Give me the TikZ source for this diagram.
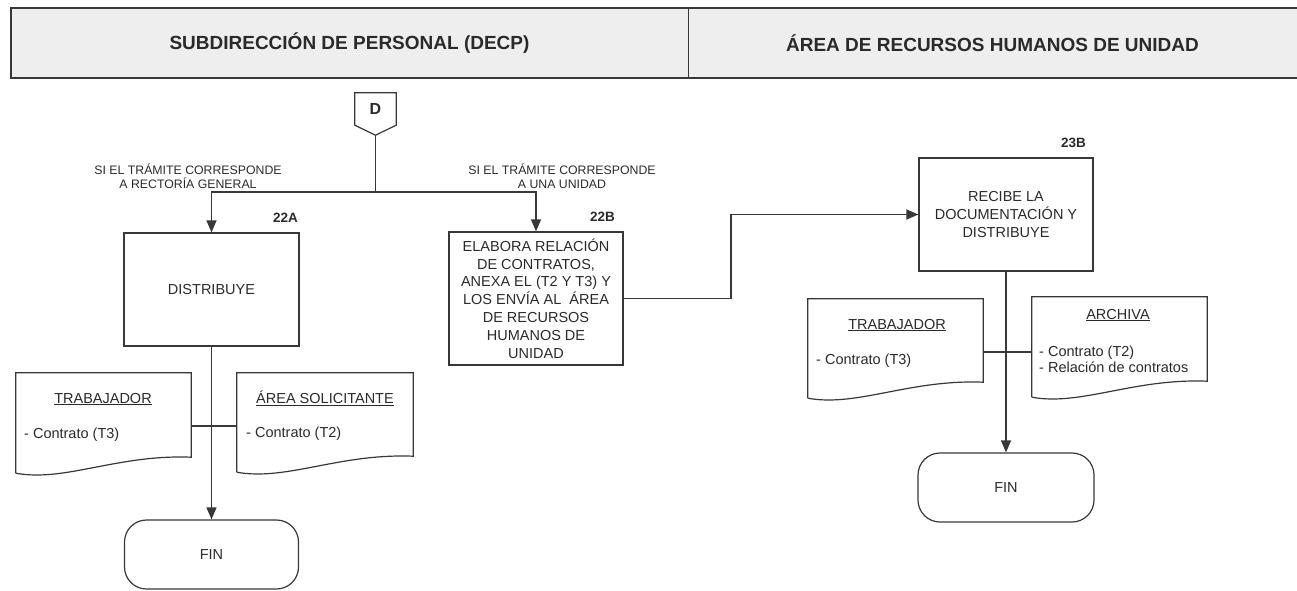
\documentclass[tikz,border=0pt]{standalone}
\usepackage{fontspec}
\setmainfont{Liberation Sans}
\usetikzlibrary{arrows.meta,calc}
\definecolor{ink}{HTML}{2A2A2A}
\definecolor{edge}{HTML}{383838}
\definecolor{headfill}{HTML}{EEEEEE}
% document symbol: straight top and sides, wavy bottom edge
\newcommand\drawdoc[1]{%
  \draw[wire] (#1.south west) -- (#1.north west) -- (#1.north east)
    -- ([yshift=16pt]#1.south east)
    .. controls ($(#1.south west)!0.58!(#1.south east)+(0,-19)$)
       and ($(#1.south west)!0.28!(#1.south east)+(0,9)$) .. (#1.south west);}
\begin{document}
\begin{tikzpicture}[x=1pt,y=-1pt,
  every node/.style={text=ink},
  wire/.style={draw=edge,line width=1.2pt},
  flow/.style={wire,-{Triangle[length=12pt,width=10pt]}},
  body/.style={font=\fontsize{14.5}{17.8}\selectfont},
  stepbox/.style={body,draw=edge,line width=1.2pt,align=center,inner sep=0pt},
  stepnum/.style={font=\bfseries\fontsize{13.5}{15}\selectfont,anchor=east,inner sep=0pt},
  cond/.style={font=\fontsize{12.3}{14}\selectfont,align=center,inner sep=0pt},
  docbox/.style={inner sep=0pt},
  endbox/.style={body,draw=edge,line width=1.2pt,rounded corners=22pt,inner sep=0pt},
  lanehead/.style={fill=headfill,inner sep=0pt,font=\bfseries\fontsize{19}{22}\selectfont},
  doctitle/.style={body,inner sep=0pt},
  docitem/.style={body,anchor=west,align=left,inner sep=0pt},
]
\useasboundingbox (0,0) rectangle (1297,590);

% swimlane headers
\node[lanehead,minimum width=677pt,minimum height=70pt] (lane1) at (349.5,43) {SUBDIRECCIÓN DE PERSONAL (DECP)};
\node[lanehead,minimum width=609pt,minimum height=70pt] (lane2) at (992.5,43) {ÁREA DE RECURSOS HUMANOS DE UNIDAD};
\draw[draw=edge,line width=1.8pt] (lane2.north east) -- (lane1.north west) -- (lane1.south west) -- (lane2.south east);
\draw[draw=edge,line width=1.3pt] (lane1.north east) -- (lane1.south east);

% off-page connector D
\node[font=\bfseries\fontsize{16}{18}\selectfont,minimum width=41pt,minimum height=32pt,inner sep=0pt] (dconn) at (375.5,109) {D};
\coordinate (dtip) at ($(dconn.south)+(0,10)$);
\draw[wire] (dconn.north west) -- (dconn.north east) -- (dconn.south east) -- (dtip) -- (dconn.south west) -- cycle;
\coordinate (j) at (375.5,192);

% conditions
\node[cond] (c1) at (188,176) {SI EL TRÁMITE CORRESPONDE\\A RECTORÍA GENERAL};
\node[cond] (c2) at (562,176) {SI EL TRÁMITE CORRESPONDE\\A UNA UNIDAD};

% process steps
\node[stepbox,minimum width=175pt,minimum height=113pt] (a22) at (211.5,289.5) {DISTRIBUYE};
\node[stepnum] (n22a) at (298,218) {22A};
\node[stepbox,minimum width=174pt,minimum height=133pt] (b22) at (536,298.5)
  {ELABORA RELACIÓN\\DE CONTRATOS,\\ANEXA EL (T2 Y T3) Y\\LOS ENVÍA AL \ ÁREA\\DE RECURSOS\\HUMANOS DE\\UNIDAD};
\node[stepnum] (n22b) at (615,217) {22B};
\node[stepbox,minimum width=174pt,minimum height=113pt] (b23) at (1006,214.5)
  {RECIBE LA\\DOCUMENTACIÓN Y\\DISTRIBUYE};
\node[stepnum] (n23b) at (1086,143) {23B};

% terminators
\node[endbox,minimum width=174pt,minimum height=69pt] (fin1) at (211.5,554.5) {FIN};
\node[endbox,minimum width=176pt,minimum height=69pt] (fin2) at (1006,487.5) {FIN};

% documents
\node[docbox,minimum width=175pt,minimum height=100pt] (dl1) at (103.5,423) {};
\node[docbox,minimum width=176pt,minimum height=99pt] (dl2) at (325,422.5) {};
\node[docbox,minimum width=175pt,minimum height=99pt] (dr1) at (895.5,348.5) {};
\node[docbox,minimum width=175pt,minimum height=100pt] (dr2) at (1119.5,347) {};
\drawdoc{dl1}\drawdoc{dl2}\drawdoc{dr1}\drawdoc{dr2}

\node[doctitle] (dl1t) at (103,399) {\underline{TRABAJADOR}};
\node[docitem] (dl1i) at (24,435) {- Contrato (T3)};
\node[doctitle] (dl2t) at (325,398) {\underline{ÁREA SOLICITANTE}};
\node[docitem] (dl2i) at (246,434) {- Contrato (T2)};
\node[doctitle] (dr1t) at (897,325) {\underline{TRABAJADOR}};
\node[docitem] (dr1i) at (816,361) {- Contrato (T3)};
\node[doctitle] (dr2t) at (1118,315) {\underline{ARCHIVA}};
\node[docitem,font=\fontsize{14.5}{16}\selectfont] (dr2i) at (1039,359) {- Contrato (T2)\\- Relación de contratos};

% connectors
\draw[wire] (dtip) -- (j);
\draw[flow] (j) -| (a22.north);
\draw[flow] (j) -| (b22.north);
\coordinate (bend) at (731,0);
\draw[flow] (b22.east) -- (b22.east -| bend) |- (b23.west);
\draw[flow] (a22.south) -- (fin1.north);
\draw[flow] (b23.south) -- (fin2.north);
\draw[wire] ([yshift=-3pt]dl1.east) -- ([yshift=-3pt]dl1.east -| dl2.west);
\draw[wire] ([yshift=-3.5pt]dr1.east) -- ([yshift=-3.5pt]dr1.east -| dr2.west);
\end{tikzpicture}
\end{document}
